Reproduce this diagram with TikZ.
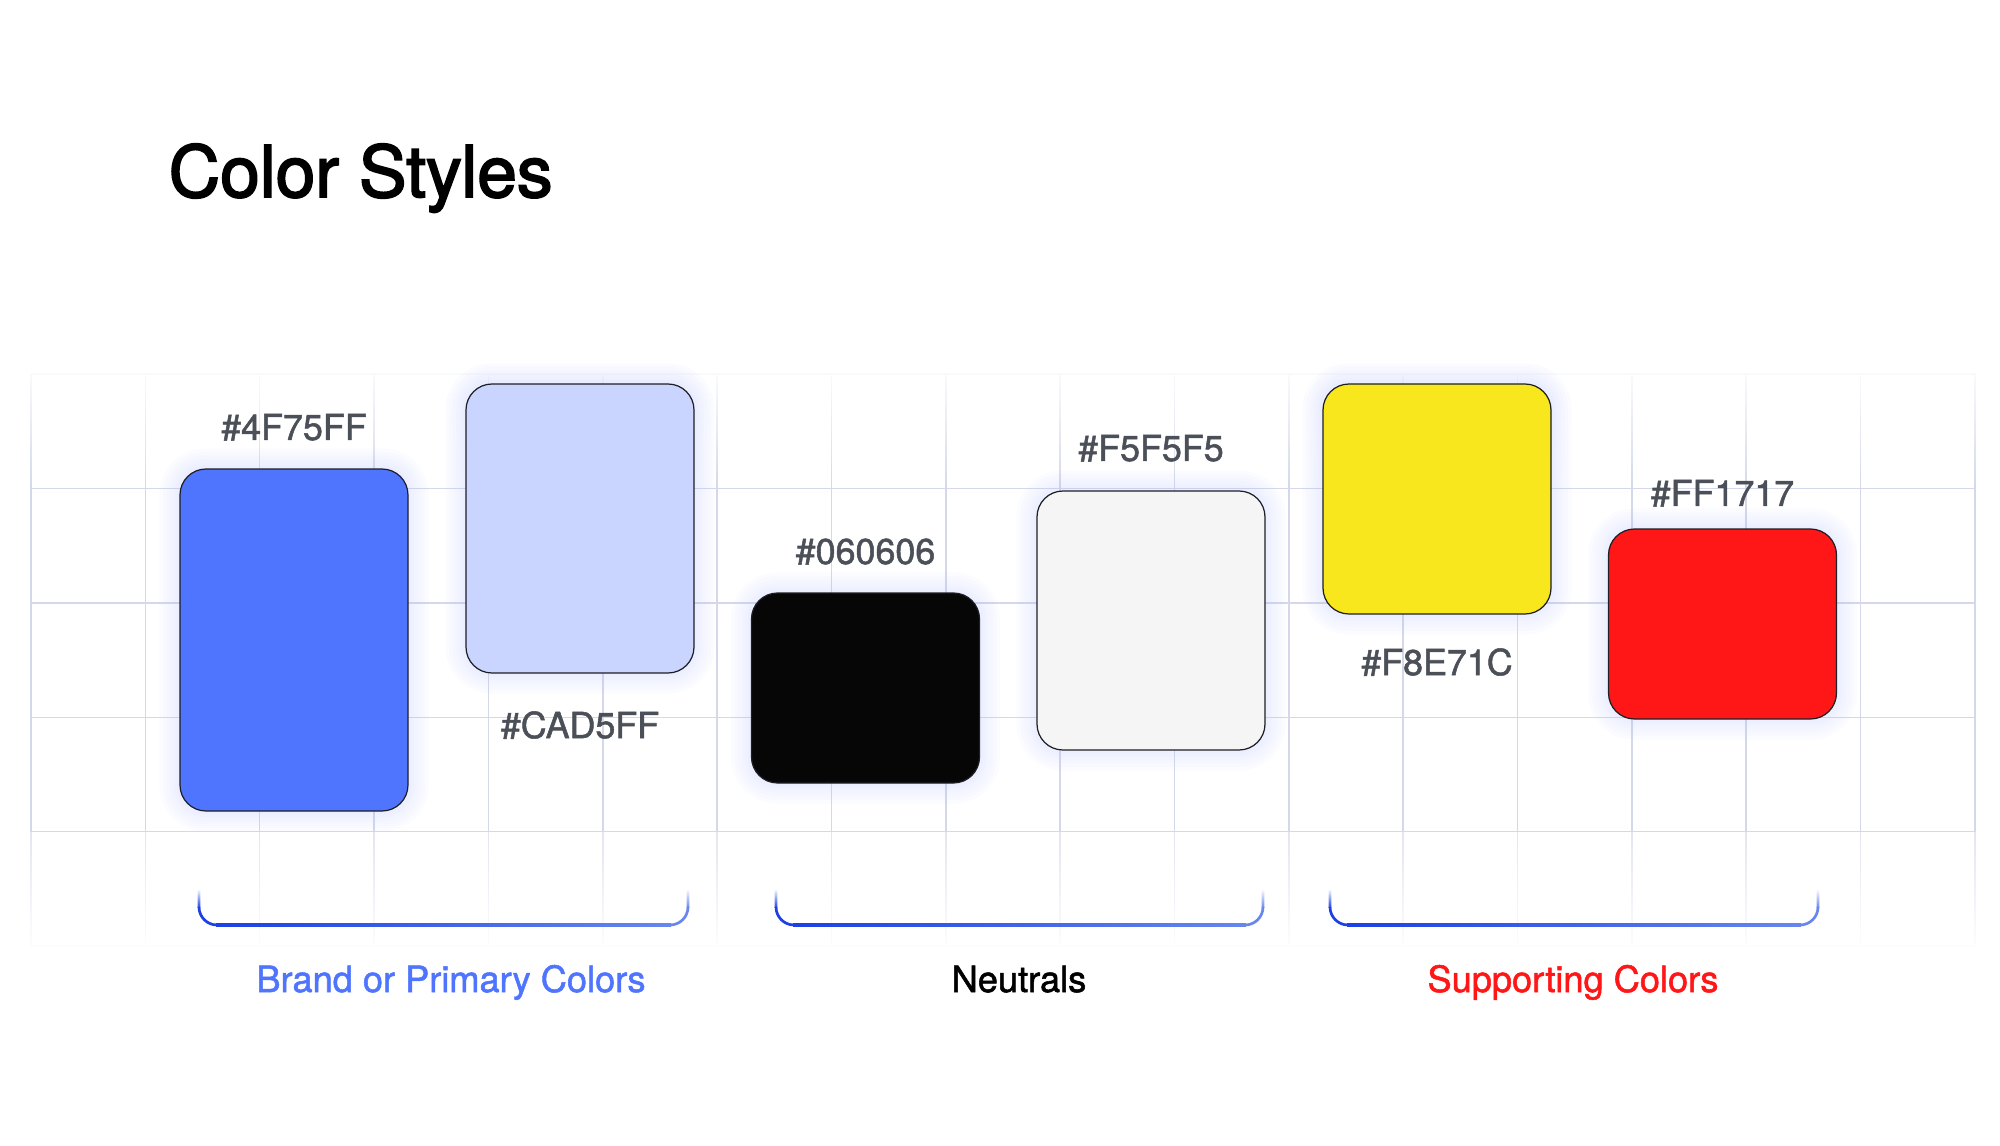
\documentclass[tikz,border=0pt]{standalone}
\usepackage{fontspec}
\setmainfont{TeX Gyre Heros}
\newfontfamily\medfont[FakeBold=1.5]{TeX Gyre Heros}
\newfontfamily\headfont[FakeBold=2.5]{TeX Gyre Heros}
\usetikzlibrary{positioning,fadings}

\definecolor{brandblue}{HTML}{4F75FF}
\definecolor{tintblue}{HTML}{CAD5FF}
\definecolor{inkblack}{HTML}{060606}
\definecolor{paperwhite}{HTML}{F5F5F5}
\definecolor{sunyellow}{HTML}{F8E71C}
\definecolor{alertred}{HTML}{FF1717}
\definecolor{hexgray}{RGB}{75,80,88}
\definecolor{gridcol}{RGB}{212,216,234}
\definecolor{glowcol}{RGB}{185,196,255}
\definecolor{brkdark}{RGB}{28,64,228}
\definecolor{brklight}{RGB}{104,134,238}
\definecolor{edgecol}{RGB}{30,30,36}

\pgfdeclarelayer{background}
\pgfsetlayers{background,main}

\tikzfading[name=fadeup, bottom color=transparent!0, top color=transparent!100]
\tikzfading[name=gridtop, top color=transparent!5, bottom color=transparent!100]
\tikzfading[name=gridbottom, top color=transparent!65, bottom color=transparent!0]

\tikzset{
  swatch/.style={draw=edgecol, line width=0.35pt, rounded corners=0.26cm, minimum width=2.28cm, inner sep=0pt},
  hexlabel/.style={text=hexgray, font=\medfont\fontsize{10.2}{12}\selectfont, inner sep=0pt},
  grouplabel/.style={font=\medfont\fontsize{10.3}{12}\selectfont, inner sep=0pt, anchor=base},
  gridline/.style={draw=gridcol, line width=0.45pt},
  glow/.style={draw=glowcol, draw opacity=0.05, rounded corners=0.26cm},
  brkline/.style={line width=0.027cm},
}

\begin{document}
\begin{tikzpicture}
\useasboundingbox (0,0) rectangle (20,11.45);
\node[anchor=base west, font=\headfont\fontsize{20.3}{24}\selectfont, inner sep=0pt] (title) at (1.68,9.48) {Color Styles};

% grid behind the swatches
\begin{pgfonlayer}{background}
\draw[gridline, shift={(0.31,1.99)}] (0,0) grid[step=1.1435] (19.45,5.72);
\fill[white, path fading=gridtop] (0.2,6.56) rectangle (19.9,7.8);
\fill[white, path fading=gridbottom] (0.2,1.9) rectangle (19.9,3.13);
\end{pgfonlayer}

\node[swatch, fill=brandblue, minimum height=3.42cm] (brand) at (2.94,5.05) {};
\node[swatch, fill=tintblue, minimum height=2.89cm] (tint) at (5.80,6.165) {};
\node[swatch, fill=inkblack, minimum height=1.90cm] (ink) at (8.655,4.57) {};
\node[swatch, fill=paperwhite, minimum height=2.59cm] (paper) at (11.51,5.245) {};
\node[swatch, fill=sunyellow, minimum height=2.30cm] (sun) at (14.37,6.46) {};
\node[swatch, fill=alertred, minimum height=1.90cm] (alert) at (17.225,5.21) {};

% soft glow
\begin{pgfonlayer}{background}
\foreach \s in {brand,tint,ink,paper,sun,alert}
  \foreach \w in {0.40,0.33,0.26,0.19,0.12,0.06}
    \draw[glow, line width=\w cm] (\s.south west) rectangle (\s.north east);
\end{pgfonlayer}

\node[hexlabel, above=0.27cm of brand] (hexbrand) {\#4F75FF};
\node[hexlabel, below=0.37cm of tint] (hextint) {\#CAD5FF};
\node[hexlabel, above=0.27cm of ink] (hexink) {\#060606};
\node[hexlabel, above=0.28cm of paper] (hexpaper) {\#F5F5F5};
\node[hexlabel, below=0.33cm of sun] (hexsun) {\#F8E71C};
\node[hexlabel, above=0.21cm of alert] (hexalert) {\#FF1717};

% group brackets
\foreach \a/\b in {1.99/6.88, 7.76/12.63, 13.30/18.18} {
  \draw[brkline, brkdark] (\a,2.38) arc[start angle=180, end angle=270, radius=0.18];
  \draw[brkline, brklight] (\b-0.18,2.20) arc[start angle=270, end angle=360, radius=0.18];
  \begin{scope}
    \clip (\a+0.17,2.1865) rectangle (\b-0.17,2.2135);
    \shade[left color=brkdark, right color=brklight] (\a+0.17,1.9) rectangle (\b-0.17,2.5);
  \end{scope}
  \begin{scope}
    \clip (\a-0.0135,2.37) rectangle (\a+0.0135,2.56);
    \fill[brkdark, path fading=fadeup] (\a-0.3,2.37) rectangle (\a+0.3,2.56);
  \end{scope}
  \begin{scope}
    \clip (\b-0.0135,2.37) rectangle (\b+0.0135,2.56);
    \fill[brklight, path fading=fadeup] (\b-0.3,2.37) rectangle (\b+0.3,2.56);
  \end{scope}
}

\node[grouplabel, text=brandblue] (brandname) at (4.51,1.53) {Brand or Primary Colors};
\node[grouplabel] (neutralname) at (10.19,1.53) {Neutrals};
\node[grouplabel, text=alertred] (supportname) at (15.73,1.53) {Supporting Colors};
\end{tikzpicture}
\end{document}
